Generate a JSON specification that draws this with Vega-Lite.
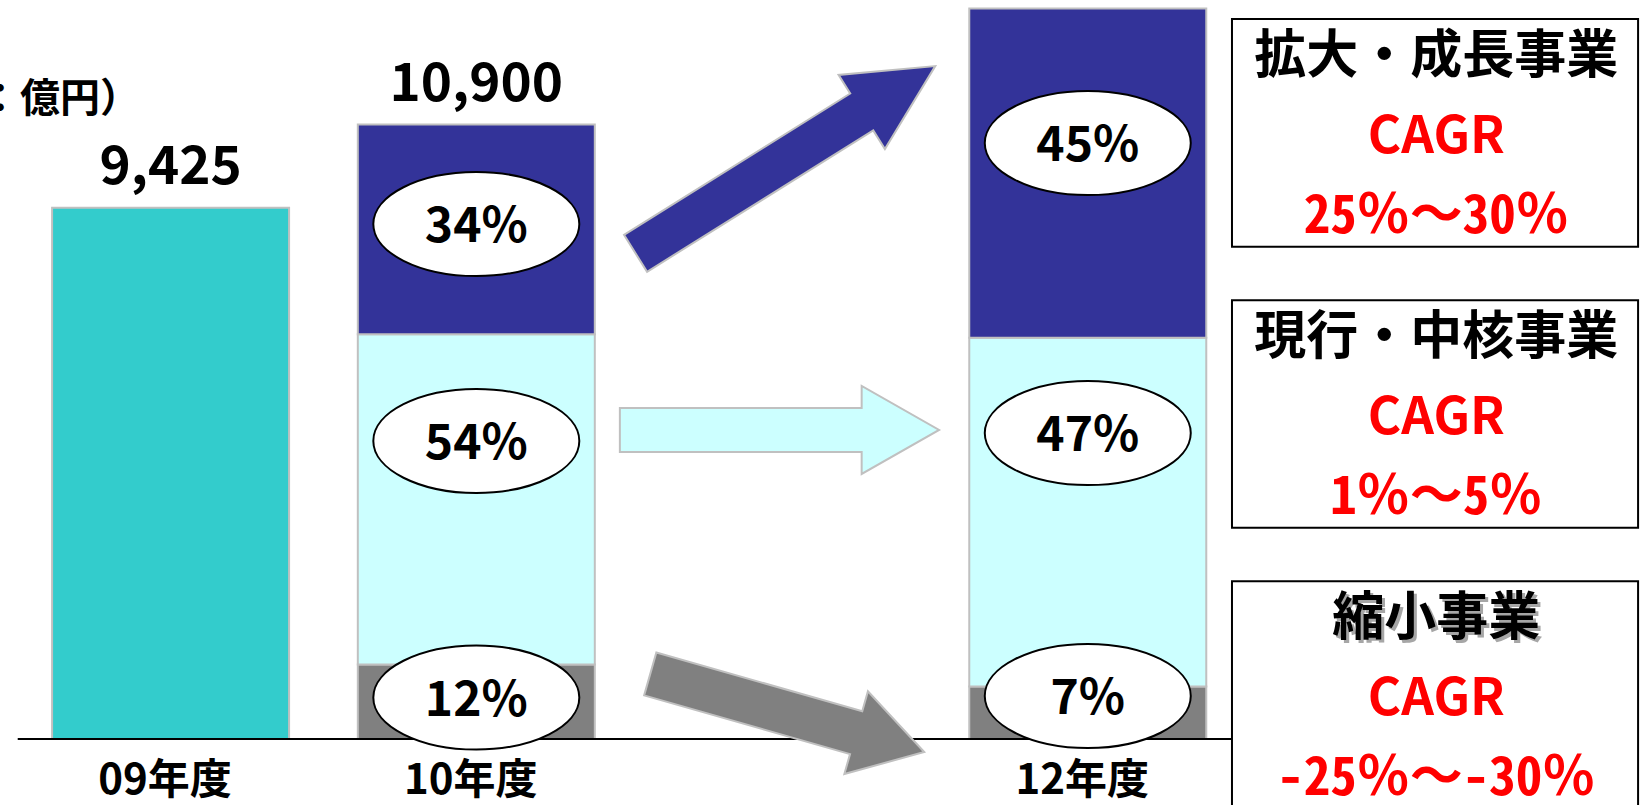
{
  "$schema": "https://vega.github.io/schema/vega-lite/v6.json",
  "width": 1641,
  "height": 739,
  "autosize": {"type": "none"},
  "padding": {"left": 0, "top": 0, "right": 0, "bottom": 66},
  "background": "white",
  "config": {"view": {"stroke": null}},
  "datasets": {
    "sales": [
      {"year": 2009, "segment": "売上高", "value": 9425},
      {"year": 2010, "segment": "縮小事業", "value": 1320},
      {"year": 2010, "segment": "現行・中核事業", "value": 5860},
      {"year": 2010, "segment": "拡大・成長事業", "value": 3720},
      {"year": 2012, "segment": "縮小事業", "value": 930},
      {"year": 2012, "segment": "現行・中核事業", "value": 6190},
      {"year": 2012, "segment": "拡大・成長事業", "value": 5840}
    ],
    "panels": [
      {"segment": "拡大・成長事業", "cagr": "25％～30％"},
      {"segment": "現行・中核事業", "cagr": "1％～5％"},
      {"segment": "縮小事業", "cagr": "-25％～-30％"}
    ]
  },
  "resolve": {"scale": {"y": "independent"}},
  "layer": [
    {
      "layer": [
        {
          "data": {"name": "sales"},
          "mark": {"type": "bar", "width": 237, "stroke": "#C0C0C0", "strokeWidth": 2},
          "encoding": {
            "x": {
              "field": "year", "type": "quantitative",
              "scale": {"domain": [2008.4584, 2013.7932], "nice": false, "zero": false},
              "axis": {
                "values": [2009, 2010, 2012],
                "labelExpr": "substring(toString(datum.value), 2) + '年度'",
                "domain": false, "ticks": false, "grid": false, "title": null,
                "labelFont": "Noto Sans CJK JP", "labelFontSize": 42, "labelFontWeight": "bold",
                "labelColor": "black", "labelPadding": 21, "labelOffset": -6,
                "labelFlush": false, "labelOverlap": false
              }
            },
            "y": {
              "field": "value", "type": "quantitative", "stack": "zero",
              "scale": {"domain": [0, 13110], "nice": false, "zero": false},
              "axis": null
            },
            "color": {
              "field": "segment", "type": "nominal",
              "scale": {
                "domain": ["売上高", "縮小事業", "現行・中核事業", "拡大・成長事業"],
                "range": ["#33CCCC", "#808080", "#CCFFFF", "#333399"]
              },
              "legend": null
            },
            "order": {"field": "segment", "sort": "descending"}
          }
        },
        {
          "data": {"name": "sales"},
          "transform": [
            {"filter": "datum.year != 2012"},
            {"aggregate": [{"op": "sum", "field": "value", "as": "total"}], "groupby": ["year"]}
          ],
          "mark": {"type": "text", "font": "Noto Sans CJK JP", "fontSize": 53, "fontWeight": "bold", "color": "black", "baseline": "middle", "align": "center", "dy": -40},
          "encoding": {
            "x": {"field": "year", "type": "quantitative"},
            "y": {"field": "total", "type": "quantitative"},
            "text": {"field": "total", "type": "quantitative", "format": ","}
          }
        },
        {
          "data": {"values": [{}]},
          "mark": {"type": "rule", "color": "black", "strokeWidth": 2},
          "encoding": {"x": {"datum": 2008.5}, "x2": {"datum": 2012.5}, "y": {"datum": 0}}
        },
        {
          "data": {"values": [{}]},
          "mark": {"type": "text", "text": "（単位：億円）", "font": "Noto Sans CJK JP", "fontSize": 40, "fontWeight": "bold", "color": "black", "align": "right", "baseline": "middle"},
          "encoding": {"x": {"datum": 2008.9}, "y": {"datum": 11336}}
        },
        {
          "data": {"values": [{}]},
          "mark": {"type": "point", "shape": "M -176.7 -21.75 L 90 -21.75 L 90 -43.75 L 176.7 0 L 90 43.75 L 90 21.75 L -176.7 21.75 Z", "size": 4, "angle": -32, "filled": true, "fill": "#333399", "stroke": "#C0C0C0", "strokeWidth": 2, "opacity": 1},
          "encoding": {"x": {"datum": 2011.011}, "y": {"datum": 10277}}
        },
        {
          "data": {"values": [{}]},
          "mark": {"type": "point", "shape": "M -159.6 -22 L 82.2 -22 L 82.2 -44 L 159.6 0 L 82.2 44 L 82.2 22 L -159.6 22 Z", "size": 4, "angle": 0, "filled": true, "fill": "#CCFFFF", "stroke": "#C0C0C0", "strokeWidth": 2, "opacity": 1},
          "encoding": {"x": {"datum": 2010.9916}, "y": {"datum": 5482}}
        },
        {
          "data": {"values": [{}]},
          "mark": {"type": "point", "shape": "M -142.45 -22.3 L 71.65 -22.3 L 71.65 -43 L 142.45 0 L 71.65 43 L 71.65 22.3 L -142.45 22.3 Z", "size": 4, "angle": 15.9, "filled": true, "fill": "#808080", "stroke": "#C0C0C0", "strokeWidth": 2, "opacity": 1},
          "encoding": {"x": {"datum": 2011.017}, "y": {"datum": 461}}
        },
        {
          "data": {"values": [{"year": 2010, "share": "34%"}]},
          "encoding": {"x": {"field": "year", "type": "quantitative"}, "y": {"datum": 9136}},
          "layer": [
            {"mark": {"type": "point", "shape": "M -103 0 A 103 52 0 1 1 103 0 A 103 52 0 1 1 -103 0 Z", "size": 4, "filled": true, "fill": "white", "stroke": "black", "strokeWidth": 2, "opacity": 1}},
            {"mark": {"type": "text", "font": "Noto Sans CJK JP", "fontSize": 48, "fontWeight": "bold", "color": "black", "baseline": "middle", "align": "center", "dy": 4}, "encoding": {"text": {"field": "share"}}}
          ]
        },
        {
          "data": {"values": [{"year": 2010, "share": "54%"}]},
          "encoding": {"x": {"field": "year", "type": "quantitative"}, "y": {"datum": 5287}},
          "layer": [
            {"mark": {"type": "point", "shape": "M -103 0 A 103 52 0 1 1 103 0 A 103 52 0 1 1 -103 0 Z", "size": 4, "filled": true, "fill": "white", "stroke": "black", "strokeWidth": 2, "opacity": 1}},
            {"mark": {"type": "text", "font": "Noto Sans CJK JP", "fontSize": 48, "fontWeight": "bold", "color": "black", "baseline": "middle", "align": "center", "dy": 4}, "encoding": {"text": {"field": "share"}}}
          ]
        },
        {
          "data": {"values": [{"year": 2010, "share": "12%"}]},
          "encoding": {"x": {"field": "year", "type": "quantitative"}, "y": {"datum": 736}},
          "layer": [
            {"mark": {"type": "point", "shape": "M -103 0 A 103 52 0 1 1 103 0 A 103 52 0 1 1 -103 0 Z", "size": 4, "filled": true, "fill": "white", "stroke": "black", "strokeWidth": 2, "opacity": 1}},
            {"mark": {"type": "text", "font": "Noto Sans CJK JP", "fontSize": 48, "fontWeight": "bold", "color": "black", "baseline": "middle", "align": "center", "dy": 4}, "encoding": {"text": {"field": "share"}}}
          ]
        },
        {
          "data": {"values": [{"year": 2012, "share": "45%"}]},
          "encoding": {"x": {"field": "year", "type": "quantitative"}, "y": {"datum": 10573}},
          "layer": [
            {"mark": {"type": "point", "shape": "M -103 0 A 103 52 0 1 1 103 0 A 103 52 0 1 1 -103 0 Z", "size": 4, "filled": true, "fill": "white", "stroke": "black", "strokeWidth": 2, "opacity": 1}},
            {"mark": {"type": "text", "font": "Noto Sans CJK JP", "fontSize": 48, "fontWeight": "bold", "color": "black", "baseline": "middle", "align": "center", "dy": 4}, "encoding": {"text": {"field": "share"}}}
          ]
        },
        {
          "data": {"values": [{"year": 2012, "share": "47%"}]},
          "encoding": {"x": {"field": "year", "type": "quantitative"}, "y": {"datum": 5428}},
          "layer": [
            {"mark": {"type": "point", "shape": "M -103 0 A 103 52 0 1 1 103 0 A 103 52 0 1 1 -103 0 Z", "size": 4, "filled": true, "fill": "white", "stroke": "black", "strokeWidth": 2, "opacity": 1}},
            {"mark": {"type": "text", "font": "Noto Sans CJK JP", "fontSize": 48, "fontWeight": "bold", "color": "black", "baseline": "middle", "align": "center", "dy": 4}, "encoding": {"text": {"field": "share"}}}
          ]
        },
        {
          "data": {"values": [{"year": 2012, "share": "7%"}]},
          "encoding": {"x": {"field": "year", "type": "quantitative"}, "y": {"datum": 763}},
          "layer": [
            {"mark": {"type": "point", "shape": "M -103 0 A 103 52 0 1 1 103 0 A 103 52 0 1 1 -103 0 Z", "size": 4, "filled": true, "fill": "white", "stroke": "black", "strokeWidth": 2, "opacity": 1}},
            {"mark": {"type": "text", "font": "Noto Sans CJK JP", "fontSize": 48, "fontWeight": "bold", "color": "black", "baseline": "middle", "align": "center", "dy": 4}, "encoding": {"text": {"field": "share"}}}
          ]
        }
      ]
    },
    {
      "data": {"name": "panels"},
      "encoding": {
        "y": {
          "field": "segment", "type": "nominal", "sort": null,
          "scale": {"type": "band", "range": [19, 809], "paddingInner": 0.19, "paddingOuter": 0},
          "axis": null
        }
      },
      "layer": [
        {
          "mark": {"type": "rect", "fill": "white", "stroke": "black", "strokeWidth": 2},
          "encoding": {"x": {"datum": 2012.4717}, "x2": {"datum": 2013.8}}
        },
        {
          "transform": [{"filter": "datum.segment === '縮小事業'"}],
          "mark": {"type": "text", "font": "Noto Sans CJK JP", "fontSize": 52, "fontWeight": "bold", "color": "#A6A6A6", "align": "center", "baseline": "middle", "dy": -73, "dx": 3},
          "encoding": {"x": {"datum": 2013.14}, "text": {"field": "segment"}}
        },
        {
          "mark": {"type": "text", "font": "Noto Sans CJK JP", "fontSize": 52, "fontWeight": "bold", "color": "black", "align": "center", "baseline": "middle", "dy": -76},
          "encoding": {"x": {"datum": 2013.14}, "text": {"field": "segment"}}
        },
        {
          "mark": {"type": "text", "text": "CAGR", "font": "Noto Sans CJK JP", "fontSize": 51, "fontWeight": "bold", "color": "#FF0000", "align": "center", "baseline": "middle", "dy": 5},
          "encoding": {"x": {"datum": 2013.14}}
        },
        {
          "mark": {"type": "text", "font": "Noto Sans Mono CJK JP, Noto Sans CJK JP", "fontSize": 53, "fontWeight": "bold", "color": "#FF0000", "align": "center", "baseline": "middle", "dy": 84},
          "encoding": {"x": {"datum": 2013.14}, "text": {"field": "cagr"}}
        }
      ]
    }
  ]
}
